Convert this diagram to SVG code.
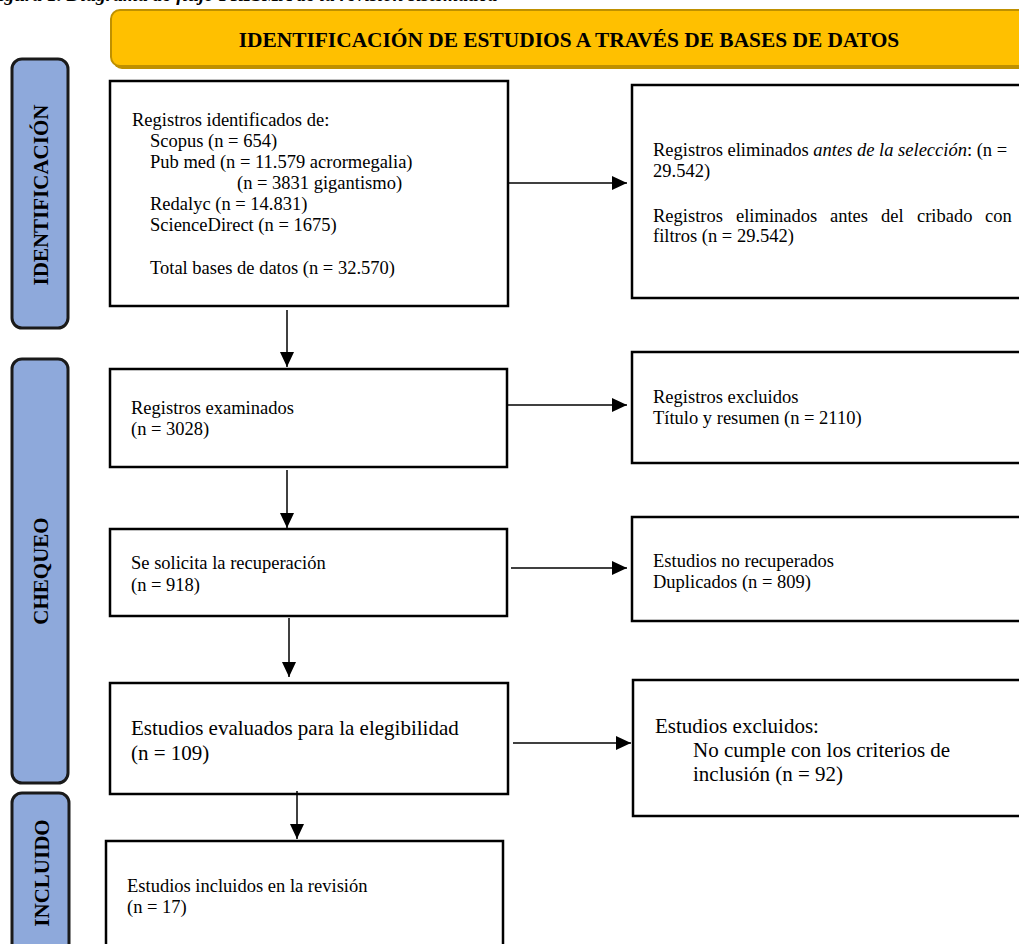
<svg xmlns="http://www.w3.org/2000/svg" width="1019" height="944" viewBox="0 0 1019 944">
<style>
  text { font-family: "Liberation Serif", "Times New Roman", serif; fill: #000; }
  .t { font-size: 18.5px; }
  .tl { font-size: 21px; }
  .box { fill: #fff; stroke: #000; stroke-width: 2.5; }
  .side { fill: #8EA9DB; stroke: #1a1a1a; stroke-width: 3; }
  .sidetxt { font-size: 21px; font-weight: bold; text-anchor: middle; }
  .conn line { stroke: #000; stroke-width: 1.5; }
</style>
<defs>
  <marker id="arrow" markerUnits="userSpaceOnUse" markerWidth="16" markerHeight="14" refX="15" refY="7" orient="auto">
    <path d="M0,0 L15,7 L0,14 Z" fill="#000"/>
  </marker>
</defs>
<rect width="1019" height="944" fill="#fff"/>

<text x="-14" y="0.5" font-size="19.5" font-weight="bold" font-style="italic">Figura 1. Diagrama de flujo PRISMA de la revisión sistemática</text>

<g id="header">
  <rect x="113" y="12" width="920" height="57" rx="9" fill="#BF9000"/>
  <rect x="111" y="10" width="920" height="56" rx="9" fill="#FFC000" stroke="#BF9000" stroke-width="2"/>
  <text x="569" y="47" font-size="21.4" font-weight="bold" text-anchor="middle">IDENTIFICACIÓN DE ESTUDIOS A TRAVÉS DE BASES DE DATOS</text>
</g>

<g id="lane-identificacion">
  <rect class="side" x="12" y="59" width="56" height="269" rx="10"/>
  <text class="sidetxt" transform="translate(48,195) rotate(-90)">IDENTIFICACIÓN</text>
</g>
<g id="lane-chequeo">
  <rect class="side" x="12" y="359" width="56" height="424" rx="10"/>
  <text class="sidetxt" transform="translate(48,571) rotate(-90)">CHEQUEO</text>
</g>
<g id="lane-incluido">
  <rect class="side" x="12" y="793" width="57" height="170" rx="10"/>
  <text class="sidetxt" transform="translate(49,873) rotate(-90)">INCLUIDO</text>
</g>

<g id="n-identificados">
  <rect class="box" x="110" y="81" width="398" height="225"/>
  <text class="t" x="132" y="126">Registros identificados de:</text>
  <text class="t" x="150" y="147">Scopus (n = 654)</text>
  <text class="t" x="150" y="168">Pub med (n = 11.579 acrormegalia)</text>
  <text class="t" x="237" y="189">(n = 3831 gigantismo)</text>
  <text class="t" x="150" y="210">Redalyc (n = 14.831)</text>
  <text class="t" x="150" y="231">ScienceDirect (n = 1675)</text>
  <text class="t" x="150" y="274">Total bases de datos (n = 32.570)</text>
</g>

<g id="n-eliminados">
  <rect class="box" x="632" y="85" width="400" height="213"/>
  <text class="t" x="653" y="156">Registros eliminados <tspan font-style="italic">antes de la selección</tspan>: (n =</text>
  <text class="t" x="653" y="177">29.542)</text>
  <text class="t" y="222"><tspan x="653">Registros</tspan><tspan x="736">eliminados</tspan><tspan x="830">antes</tspan><tspan x="881">del</tspan><tspan x="917">cribado</tspan><tspan x="985">con</tspan></text>
  <text class="t" x="653" y="242">filtros (n = 29.542)</text>
</g>

<g id="n-examinados">
  <rect class="box" x="110" y="369" width="397" height="98"/>
  <text class="t" x="131" y="414">Registros examinados</text>
  <text class="t" x="131" y="435">(n = 3028)</text>
</g>

<g id="n-excluidos">
  <rect class="box" x="632" y="352" width="400" height="111"/>
  <text class="t" x="653" y="403">Registros excluidos</text>
  <text class="t" x="653" y="424">Título y resumen (n = 2110)</text>
</g>

<g id="n-recuperacion">
  <rect class="box" x="110" y="529" width="397" height="87"/>
  <text class="t" x="131" y="569">Se solicita la recuperación</text>
  <text class="t" x="131" y="591">(n = 918)</text>
</g>

<g id="n-no-recuperados">
  <rect class="box" x="632" y="517" width="400" height="104"/>
  <text class="t" x="653" y="567">Estudios no recuperados</text>
  <text class="t" x="653" y="588">Duplicados (n = 809)</text>
</g>

<g id="n-evaluados">
  <rect class="box" x="110" y="683" width="398" height="111"/>
  <text class="tl" x="131" y="735">Estudios evaluados para la elegibilidad</text>
  <text class="tl" x="131" y="760">(n = 109)</text>
</g>

<g id="n-excluidos-criterios">
  <rect class="box" x="633" y="680" width="400" height="136"/>
  <text class="tl" x="655" y="733">Estudios excluidos:</text>
  <text class="tl" x="693" y="757">No cumple con los criterios de</text>
  <text class="tl" x="693" y="781">inclusión (n = 92)</text>
</g>

<g id="n-incluidos">
  <rect class="box" x="106" y="841" width="397" height="120"/>
  <text class="t" x="127" y="892">Estudios incluidos en la revisión</text>
  <text class="t" x="127" y="913">(n = 17)</text>
</g>

<g id="connectors" class="conn">
  <line x1="508" y1="183" x2="627" y2="183" marker-end="url(#arrow)"/>
  <line x1="508" y1="405" x2="627" y2="405" marker-end="url(#arrow)"/>
  <line x1="511" y1="568" x2="627" y2="568" marker-end="url(#arrow)"/>
  <line x1="513" y1="743" x2="631" y2="743" marker-end="url(#arrow)"/>
  <line x1="287" y1="310" x2="287" y2="367" marker-end="url(#arrow)"/>
  <line x1="287" y1="470" x2="287" y2="528" marker-end="url(#arrow)"/>
  <line x1="289" y1="618" x2="289" y2="677" marker-end="url(#arrow)"/>
  <line x1="297" y1="791" x2="297" y2="839" marker-end="url(#arrow)"/>
</g>
</svg>
